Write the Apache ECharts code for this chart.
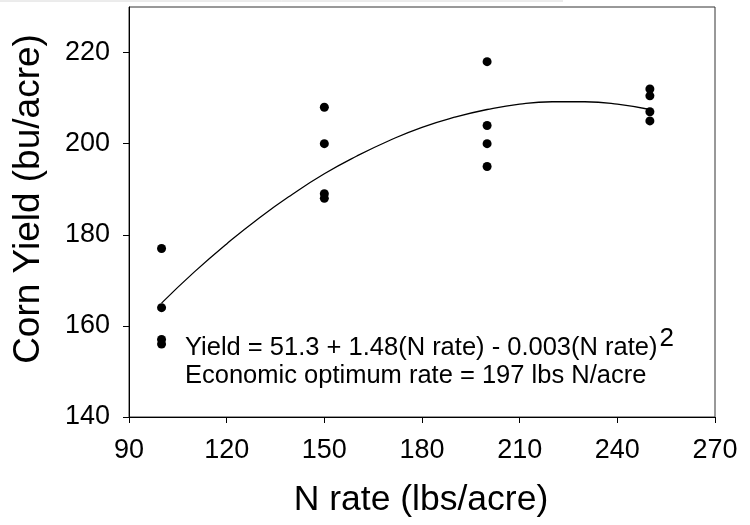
<!DOCTYPE html>
<html>
<head>
<meta charset="utf-8">
<script src="https://cdn.jsdelivr.net/npm/echarts@6/dist/echarts.min.js"></script>
<style>
html,body{margin:0;padding:0;background:#fff;}
#chart{width:750px;height:525px;}
</style>
</head>
<body>
<div id="chart"></div>
<script>
// Observed yields (bu/acre) at each N rate (lbs/acre)
var nRate100 = [177, 164, 157, 156];
var nRate150 = [208, 200, 189, 188];
var nRate200 = [218, 204, 200, 195];
var nRate250 = [212, 210.5, 207, 205];
var nRates = [100, 150, 200, 250];

// Fitted curve
var curveX = [100, 110, 120, 130, 140, 150, 160, 170, 180, 190, 200, 210, 220, 230, 240, 250];
var curveY = [165.0, 171.8, 178.0, 183.7, 188.8, 193.4, 197.3, 200.7, 203.6, 205.8, 207.5, 208.7, 209.2, 209.2, 208.7, 207.5];

var xTicks = [90, 120, 150, 180, 210, 240, 270];
var yTicks = [140, 160, 180, 200, 220];

var groups = [nRate100, nRate150, nRate200, nRate250];
var points = [];
groups.forEach(function (g, i) {
  g.forEach(function (v) { points.push([nRates[i], v]); });
});
var curve = curveX.map(function (x, i) { return [x, curveY[i]]; });

var FONT = 'Liberation Sans, Arial, sans-serif';
var chart = echarts.init(document.getElementById('chart'), null, {renderer: 'canvas'});
chart.setOption({
  animation: false,
  backgroundColor: '#fff',
  grid: {
    left: 129, right: 35, top: 7, bottom: 108,
    show: true, borderColor: '#333', borderWidth: 1, backgroundColor: 'transparent'
  },
  xAxis: {
    type: 'value', min: 90, max: 270, interval: 30,
    axisLine: {show: true, onZero: false, lineStyle: {color: '#000', width: 1}},
    axisTick: {show: true, inside: false, length: 6, lineStyle: {color: '#000'},
               customValues: xTicks},
    axisLabel: {color: '#000', fontSize: 27, fontFamily: FONT, margin: 20,
                customValues: xTicks},
    splitLine: {show: false}
  },
  yAxis: {
    type: 'value', min: 140, max: 230, interval: 20,
    axisLine: {show: true, onZero: false, lineStyle: {color: '#000', width: 1}},
    axisTick: {show: true, inside: false, length: 6, lineStyle: {color: '#000'},
               customValues: yTicks},
    axisLabel: {color: '#000', fontSize: 27, fontFamily: FONT, margin: 19,
                customValues: yTicks},
    splitLine: {show: false}
  },
  series: [
    {
      type: 'line', data: curve, smooth: true, showSymbol: false, symbol: 'none',
      lineStyle: {color: '#000', width: 1.3}, z: 2
    },
    {
      type: 'scatter', data: points, symbol: 'circle', symbolSize: 9,
      itemStyle: {color: '#000', opacity: 1}, z: 3
    }
  ],
  graphic: [
    {type: 'line', shape: {x1: 0, y1: 1, x2: 563, y2: 1}, style: {stroke: '#d8d8d8', lineWidth: 1}},
    {
      type: 'text', x: 29, y: 199, rotation: Math.PI / 2,
      style: {text: 'Corn Yield (bu/acre)', x: 0, y: 0, align: 'center', verticalAlign: 'middle',
              font: '37px ' + FONT, fill: '#000'}
    },
    {
      type: 'text', x: 421, y: 500,
      style: {text: 'N rate (lbs/acre)', x: 0, y: 0, align: 'center', verticalAlign: 'middle',
              font: '35.5px ' + FONT, fill: '#000'}
    },
    {
      type: 'text', x: 185, y: 361,
      style: {
        text: '{a|Yield = 51.3 + 1.48(N rate) - 0.003(N rate)}{s|2}',
        x: 0, y: 0, align: 'left', verticalAlign: 'bottom',
        rich: {
          a: {fontSize: 25.5, fontFamily: FONT, color: '#000', verticalAlign: 'bottom', lineHeight: 30},
          s: {fontSize: 26, fontFamily: FONT, color: '#000', verticalAlign: 'bottom', lineHeight: 30,
              padding: [0, 0, 9, 2]}
        }
      }
    },
    {
      type: 'text', x: 185, y: 376,
      style: {text: 'Economic optimum rate = 197 lbs N/acre', x: 0, y: 0, align: 'left', verticalAlign: 'middle',
              font: '25.5px ' + FONT, fill: '#000'}
    }
  ]
});
</script>
</body>
</html>
